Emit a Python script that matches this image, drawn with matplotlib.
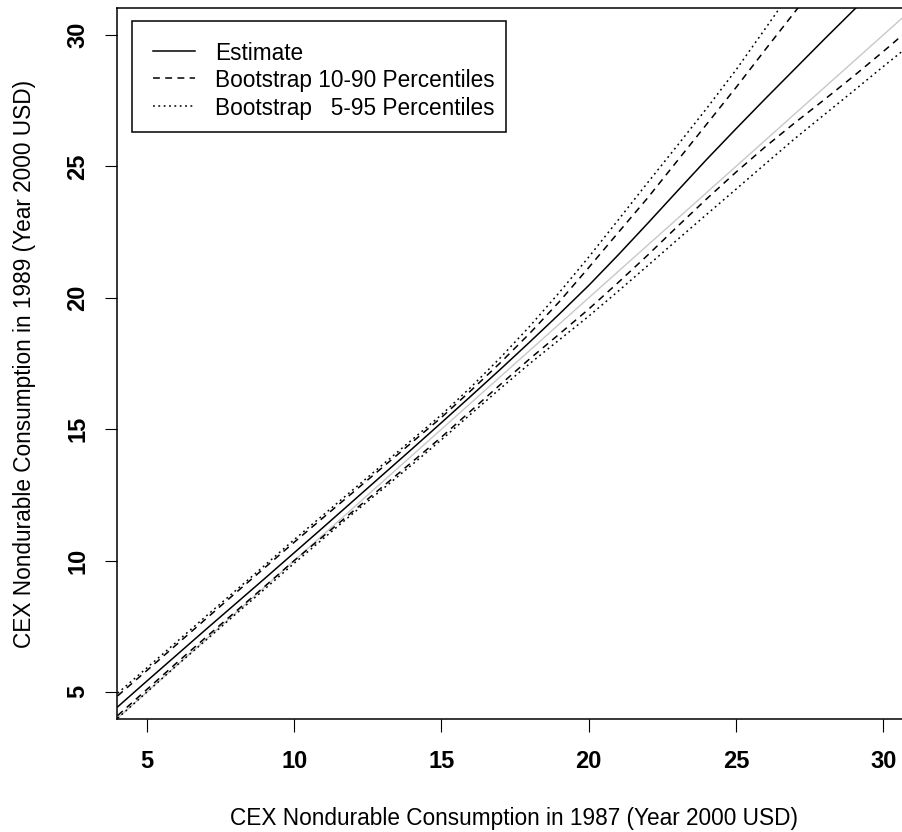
import numpy as np
import matplotlib
matplotlib.use("Agg")
import matplotlib.pyplot as plt
from matplotlib.patches import Rectangle

plt.rcParams['font.family'] = ['Liberation Sans', 'DejaVu Sans']

# consumption in 1987 (grid the curves are read at)
cons87 = [4, 5, 6, 7, 8, 9, 10, 11, 12, 13, 14, 15, 16, 17,
          18, 19, 20, 21, 22, 23, 24, 25, 26, 27, 28, 29, 30, 31]

# estimate
est = [4.43, 5.42, 6.40, 7.38, 8.35, 9.32, 10.30, 11.28, 12.27, 13.26, 14.25, 15.25, 16.26, 17.28,
       18.32, 19.38, 20.47, 21.63, 22.83, 24.05, 25.26, 26.43, 27.58, 28.71, 29.84, 30.95, 32.05, 33.10]

# bootstrap 10-90 percentiles
p90 = [4.85, 5.82, 6.80, 7.78, 8.76, 9.73, 10.70, 11.65, 12.60, 13.55, 14.50, 15.45, 16.47, 17.53,
       18.65, 19.85, 21.15, 22.48, 23.80, 25.20, 26.60, 28.00, 29.45, 30.88, 32.30, 33.70, 35.10, 36.50]
p10 = [4.10, 5.10, 6.10, 7.08, 8.05, 9.02, 10.00, 10.94, 11.88, 12.81, 13.75, 14.70, 15.70, 16.70,
       17.68, 18.62, 19.57, 20.58, 21.62, 22.70, 23.76, 24.78, 25.75, 26.66, 27.54, 28.44, 29.37, 30.33]

# bootstrap 5-95 percentiles
p95 = [4.95, 5.92, 6.90, 7.88, 8.85, 9.82, 10.80, 11.75, 12.70, 13.65, 14.60, 15.55, 16.60, 17.72,
       18.92, 20.20, 21.55, 22.96, 24.38, 25.78, 27.20, 28.67, 30.25, 31.85, 33.50, 35.10, 36.70, 38.30]
p05 = [4.00, 5.00, 6.00, 6.97, 7.95, 8.92, 9.90, 10.85, 11.80, 12.72, 13.65, 14.60, 15.58, 16.55,
       17.50, 18.40, 19.30, 20.25, 21.22, 22.20, 23.17, 24.13, 25.10, 26.06, 26.97, 27.88, 28.80, 29.70]

ticks = [5, 10, 15, 20, 25, 30]
legend_labels = ['Estimate', 'Bootstrap 10-90 Percentiles', 'Bootstrap   5-95 Percentiles']

W, H = 902, 832
fig = plt.figure(figsize=(W/100, H/100), dpi=100)
# axes box in pixels: left 117, top 8, right 902, bottom 719
ax = fig.add_axes([117/W, (H-719)/H, 785/W, 711/H])

dashed = (0, (4.5, 3.5))
dotted = (0, (1.2, 2.3))
styles = ['-', dashed, dotted]

# 45 degree line
ax.plot(cons87, cons87, color='#c8c8c8', lw=1.0)
ax.plot(cons87, est, color='black', lw=1.1, linestyle=styles[0])
ax.plot(cons87, p90, color='black', lw=1.1, linestyle=styles[1])
ax.plot(cons87, p10, color='black', lw=1.1, linestyle=styles[1])
ax.plot(cons87, p95, color='black', lw=1.1, linestyle=styles[2])
ax.plot(cons87, p05, color='black', lw=1.1, linestyle=styles[2])

ax.set_xlim(3.98, 30.64)
ax.set_ylim(3.97, 31.03)
ax.set_xticks(ticks)
ax.set_yticks(ticks)
ax.spines['right'].set_visible(False)
for s in ['left', 'top', 'bottom']:
    ax.spines[s].set_linewidth(1.1)

ax.tick_params(axis='both', length=9, width=0.8, labelsize=17)
ax.tick_params(axis='x', pad=13)
ax.tick_params(axis='y', pad=11, labelrotation=90)
for lab in ax.get_xticklabels() + ax.get_yticklabels():
    lab.set_fontweight('bold')
for lab in ax.get_yticklabels():
    lab.set_va('center')

ax.set_xlabel('CEX Nondurable Consumption in 1987 (Year 2000 USD)', fontsize=16.3)
ax.set_ylabel('CEX Nondurable Consumption in 1989 (Year 2000 USD)', fontsize=16.3)
ax.xaxis.set_label_coords(0.506, -0.124)
ax.yaxis.set_label_coords(-0.103, 0.5)

# R-style legend box drawn by hand (pixel layout -> axes fraction)
def axx(px):
    return (px - 117) / 785

def axy(py):
    return 1 - (py - 8) / 711

ax.add_patch(Rectangle((axx(132), axy(132)), axx(506) - axx(132), axy(21) - axy(132),
                       transform=ax.transAxes, facecolor='white', edgecolor='black',
                       lw=1.1, zorder=5))
for row_y, lab, ls in zip([51, 78, 106], legend_labels, styles):
    ax.plot([axx(153), axx(195)], [axy(row_y), axy(row_y)], transform=ax.transAxes,
            color='black', lw=1.1, linestyle=ls, zorder=6, clip_on=False)
    ax.text(axx(215), axy(row_y + 2), lab, transform=ax.transAxes, fontsize=16.3,
            va='center', ha='left', zorder=6)

fig.savefig('out.png', dpi=100)
